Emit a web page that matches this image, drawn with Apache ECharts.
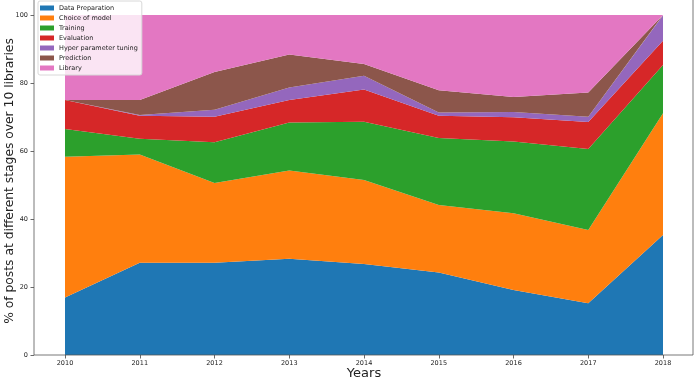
<!DOCTYPE html>
<html>
<head>
<meta charset="utf-8">
<script src="https://cdn.jsdelivr.net/npm/echarts@6/dist/echarts.min.js"></script>
<style>
  html, body { margin: 0; padding: 0; background: #fff; }
  #chart { width: 699px; height: 378px; }
</style>
</head>
<body>
<div id="chart"></div>
<script>
// years on the x axis
const years = ['2010', '2011', '2012', '2013', '2014', '2015', '2016', '2017', '2018']

// share of posts per stage (%)
const dataPreparation = [16.9, 27.1, 27.1, 28.3, 26.8, 24.3, 19.1, 15.2, 35.3]
const choiceOfModel   = [41.4, 31.9, 23.5, 26.0, 24.7, 19.8, 22.6, 21.6, 35.8]
const training        = [8.2, 4.6, 12.0, 14.1, 17.1, 19.7, 21.1, 23.8, 14.2]
const evaluation      = [8.5, 6.8, 7.5, 6.6, 9.5, 6.6, 7.1, 7.9, 7.1]
const hyperTuning     = [0.0, 0.2, 2.0, 3.7, 4.0, 0.9, 1.6, 1.6, 7.5]
const prediction      = [0.0, 4.4, 11.1, 9.7, 3.5, 6.6, 4.4, 7.1, 0.1]
const library         = [25.0, 25.0, 16.8, 11.6, 14.4, 22.1, 24.1, 22.8, 0.0]

const yTicks = [0, 20, 40, 60, 80, 100]

const seriesDefs = [
  {name: 'Data Preparation', values: dataPreparation, color: '#1f77b4'},
  {name: 'Choice of model', values: choiceOfModel, color: '#ff7f0e'},
  {name: 'Training', values: training, color: '#2ca02c'},
  {name: 'Evaluation', values: evaluation, color: '#d62728'},
  {name: 'Hyper parameter tuning', values: hyperTuning, color: '#9467bd'},
  {name: 'Prediction', values: prediction, color: '#8c564b'},
  {name: 'Library', values: library, color: '#e377c2'},
]

const chart = echarts.init(document.getElementById('chart'))

// 堆叠面积
const series = seriesDefs.map(s => ({
  name: s.name,
  type: 'line',
  stack: 'total',
  symbol: 'none',
  silent: true,
  color: s.color,
  lineStyle: {width: 0},
  areaStyle: {color: s.color, opacity: 1},
  data: s.values
}))

const axisFont = {fontFamily: 'DejaVu Sans', fontSize: 6.5, color: '#222'}

chart.setOption({
  animation: false,
  grid: {left: 65, right: 36, top: 15, bottom: 23, containLabel: false, outerBoundsMode: 'none'},
  xAxis: {
    type: 'category',
    data: years,
    boundaryGap: false,
    name: 'Years',
    nameLocation: 'middle',
    nameGap: 12,
    nameMoveOverlap: false,
    nameTextStyle: {fontFamily: 'DejaVu Sans', fontSize: 13, color: '#222'},
    axisLine: {show: false},
    axisTick: {show: true, length: 3.5, lineStyle: {color: '#444', width: 0.8}},
    axisLabel: {...axisFont, margin: 5, interval: 0},
    splitLine: {show: false}
  },
  yAxis: {
    type: 'value',
    min: yTicks[0],
    max: yTicks[yTicks.length - 1],
    interval: 20,
    offset: 31,
    name: '% of posts at different stages over 10 libraries',
    nameLocation: 'middle',
    nameGap: 18,
    nameMoveOverlap: false,
    nameTextStyle: {fontFamily: 'DejaVu Sans', fontSize: 12.3, color: '#222', padding: [0, 0, 0, 8]},
    axisLine: {show: false},
    axisTick: {show: true, length: 3.5, lineStyle: {color: '#444', width: 0.8}},
    axisLabel: {...axisFont, margin: 6},
    splitLine: {show: false}
  },
  legend: {
    orient: 'vertical',
    left: 38,
    top: 1,
    icon: 'rect',
    itemWidth: 14,
    itemHeight: 5,
    itemGap: 2,
    padding: [3, 4, 3, 2],
    backgroundColor: 'rgba(255,255,255,0.8)',
    borderColor: '#d8d8d8',
    borderWidth: 1,
    borderRadius: 2,
    textStyle: {fontFamily: 'DejaVu Sans', fontSize: 6.5, color: '#222', lineHeight: 8},
    data: seriesDefs.map(s => s.name),
    selectedMode: false
  },
  // 坐标轴边框
  graphic: [{
    type: 'rect',
    z: 100,
    silent: true,
    shape: {x: 34, y: -2, width: 659, height: 357},
    style: {fill: null, stroke: '#555', lineWidth: 0.8}
  }],
  series: series
})
</script>
</body>
</html>
